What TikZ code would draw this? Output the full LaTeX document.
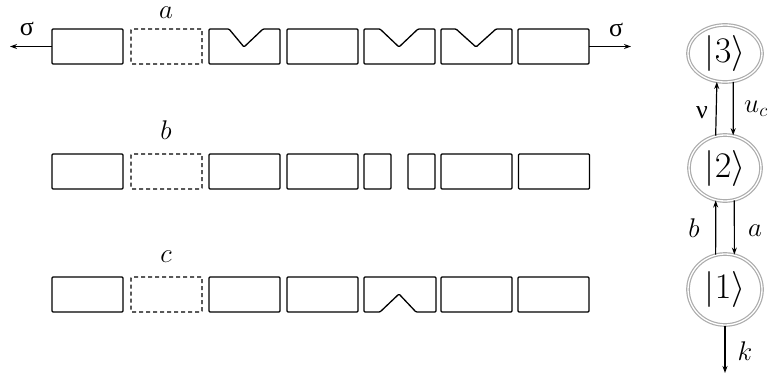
\RequirePackage{fix-cm}
\documentclass[tikz,border=0pt]{standalone}
\usepackage{fontspec}
\newfontfamily\grk{Liberation Serif}
\usetikzlibrary{shapes.geometric,arrows.meta}
\begin{document}
\begin{tikzpicture}[x=1pt,y=-1pt,
 cell/.style={draw,line width=1.3pt,minimum width=71pt,minimum height=35pt,inner sep=0pt,outer sep=0pt,rounded corners=1pt},
 narrow/.style={cell,minimum width=27pt},
 ghost/.style={cell,dash pattern=on 4pt off 3pt},
 edge/.style={line width=1.3pt,rounded corners=1pt,line join=miter},
 lab/.style={font=\fontsize{27}{30}\selectfont,inner sep=0pt,anchor=base},
 glab/.style={lab,font=\fontsize{26}{30}\selectfont\grk},
 state/.style={ellipse,draw=gray!65,line width=1.2pt,double=white,double distance=1.3pt,inner sep=0pt,font=\fontsize{36}{40}\selectfont},
 arr/.style={-{Stealth[length=7pt,width=5pt]},line width=1.2pt}
]
\useasboundingbox (0,0) rectangle (768,378);
% row a
\node[cell]  (a1) at (87.5,46.5) {};
\node[ghost] (a2) at (166.5,46.5) {};
\draw[edge] (209,29) -- (229,29) -- (244,47) -- (263,29) -- (280,29) -- (280,64) -- (209,64) -- cycle;
\node[cell]  (a4) at (322.5,46.5) {};
\draw[edge] (364,29) -- (380,29) -- (399,47) -- (418,29) -- (435,29) -- (435,64) -- (364,64) -- cycle;
\draw[edge] (441,29) -- (456,29) -- (476,47) -- (496,29) -- (512,29) -- (512,64) -- (441,64) -- cycle;
\node[cell]  (a7) at (553.5,46.5) {};
\coordinate (sl) at (10,46.5);
\coordinate (sr) at (631,46.5);
\draw[arr] (a1.west) -- (sl);
\draw[arr] (a7.east) -- (sr);
\node[glab] (sigl) at (27,35) {σ};
\node[glab] (sigr) at (616,36) {σ};
\node[lab] (la) at (166,18.5) {$a$};
% row b
\node[cell]   (b1) at (87.5,171.5) {};
\node[ghost]  (b2) at (166.5,171.5) {};
\node[cell]   (b3) at (244.5,171.5) {};
\node[cell]   (b4) at (322.5,171.5) {};
\node[narrow] (b5) at (377.5,171.5) {};
\node[narrow] (b6) at (421.5,171.5) {};
\node[cell]   (b7) at (476.5,171.5) {};
\node[cell]   (b8) at (554,171.5) {};
\node[lab] (lb) at (166,139) {$b$};
% row c
\node[cell]  (c1) at (87.5,294.5) {};
\node[ghost] (c2) at (166.5,294.5) {};
\node[cell]  (c3) at (244.5,294.5) {};
\node[cell]  (c4) at (322.5,294.5) {};
\draw[edge] (364,277) -- (436,277) -- (436,312) -- (416,312) -- (399,294) -- (380,312) -- (364,312) -- cycle;
\node[cell]  (c6) at (476.5,294.5) {};
\node[cell]  (c7) at (553.5,294.5) {};
\node[lab] (lc) at (166,262) {$c$};
% level scheme
\node[state,minimum width=74pt,minimum height=57pt] (n3) at (725,53.5) {$|3\rangle$};
\node[state,minimum width=72pt,minimum height=66pt] (n2) at (725,168) {$|2\rangle$};
\node[state,minimum width=74pt,minimum height=71pt] (n1) at (725,289.5) {$|1\rangle$};
\draw[arr] (n2.106) -- (n3.254);
\draw[arr] (n3.286) -- (n2.76);
\draw[arr] (n1.105) -- (n2.254);
\draw[arr] (n2.286) -- (n1.75);
\coordinate (kend) at (725,373);
\draw[arr] (n1.south) -- (kend);
\node[glab] (lnu) at (702,118) {ν};
\node[lab,anchor=base west] (luc) at (744,112) {$u_c$};
\node[lab] (lb2) at (694,237) {$b$};
\node[lab] (la2) at (755,236) {$a$};
\node[lab] (lk) at (745,360) {$k$};
\end{tikzpicture}
\end{document}
